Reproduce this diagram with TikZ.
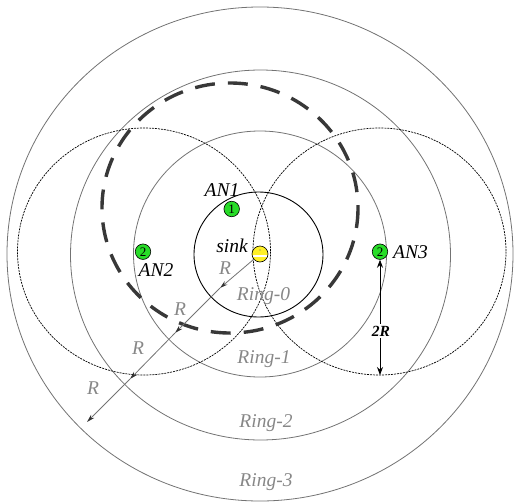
\documentclass[tikz,border=0pt]{standalone}
\usepackage{fontspec}
\setmainfont{Liberation Serif}
\usetikzlibrary{arrows.meta}
\definecolor{ringgray}{RGB}{115,115,115}
\definecolor{labgray}{RGB}{135,135,135}
\definecolor{nodegreen}{RGB}{40,220,40}
\definecolor{sinkyellow}{RGB}{255,240,40}
\tikzset{
  ring/.style={draw=ringgray, line width=0.8pt},
  rangecirc/.style={draw=black, line width=0.7pt, dash pattern=on 2pt off 1pt},
  bigdash/.style={draw=black!78, line width=3.4pt, dash pattern=on 20pt off 13pt},
  anode/.style={circle, draw=black, line width=0.6pt, fill=nodegreen, minimum size=15.5pt, inner sep=0pt, font=\fontsize{13}{13}\selectfont},
  lab/.style={font=\fontsize{19.5}{19.5}\selectfont\itshape, inner sep=0pt},
  glab/.style={lab, text=labgray},
  radial/.style={draw=ringgray, line width=0.8pt, -{Stealth[length=8pt,width=4.5pt,color=black!80]}},
}
\begin{document}
\begin{tikzpicture}[x=1pt,y=-1pt]
\useasboundingbox (0,0) rectangle (515,504);
% rings
\draw[ring] (260,254) ellipse [x radius=253, y radius=247];
\draw[ring] (260.5,255) ellipse [x radius=190, y radius=185];
\draw[ring] (260,254) ellipse [x radius=126.5, y radius=123];
\draw[draw=black, line width=0.9pt] (258.5,254.5) ellipse [x radius=64.5, y radius=62.5];
% range circles of AN2 and AN3
\draw[rangecirc] (144,251.5) ellipse [x radius=126.5, y radius=123.5];
\draw[rangecirc] (379.5,251.5) ellipse [x radius=126.5, y radius=123.5];
% thick dashed
\draw[bigdash] (230,208) ellipse [x radius=128, y radius=125];
% ring labels
\node[glab] (r0) at (263.5,296) {Ring-0};
\node[glab] (r1) at (264,359) {Ring-1};
\node[glab] (r2) at (266,423) {Ring-2};
\node[glab] (r3) at (266,482) {Ring-3};
% radial arrows
\coordinate (a1) at (220,288);
\coordinate (a2) at (175,333);
\coordinate (a3) at (130,379);
\coordinate (a4) at (87,422);
% sink
\node[circle, draw=black, line width=0.6pt, fill=sinkyellow, minimum size=16pt, inner sep=0pt] (sink) at (260,254) {};
\draw[white, line width=1.4pt] ([xshift=-7pt]sink.center) ++(0,2) -- ++(14,0);
\fill[black!60] ([yshift=4pt]sink.center) circle (0.7pt);
\draw[radial] (sink) -- (a1);
\draw[radial] (a1) -- (a2);
\draw[radial] (a2) -- (a3);
\draw[radial] (a3) -- (a4);
\node[glab] (rl1) at (225,268) {R};
\node[glab] (rl2) at (180,309) {R};
\node[glab] (rl3) at (138,348) {R};
\node[glab] (rl4) at (93,388) {R};
% anchor nodes
\node[anode] (an1) at (231.7,209) {1};
\node[anode] (an2) at (143,251.7) {2};
\node[anode] (an3) at (380,251.7) {2};
\node[lab] (an1l) at (222,190) {AN1};
\node[lab] (an2l) at (156,270) {AN2};
\node[lab] (an3l) at (410.5,252) {AN3};
\node[lab] (sinkl) at (232,246) {sink};
% 2R
\coordinate (bot) at (380,375);
\draw[black, line width=0.8pt, {Stealth[length=8pt,width=6pt]}-{Stealth[length=8pt,width=6pt]}] (an3) -- (bot);
\node[fill=white, inner sep=1.5pt, font=\fontsize{15.5}{15.5}\selectfont\bfseries\itshape] (tr) at (381,331) {2R};
\end{tikzpicture}
\end{document}
